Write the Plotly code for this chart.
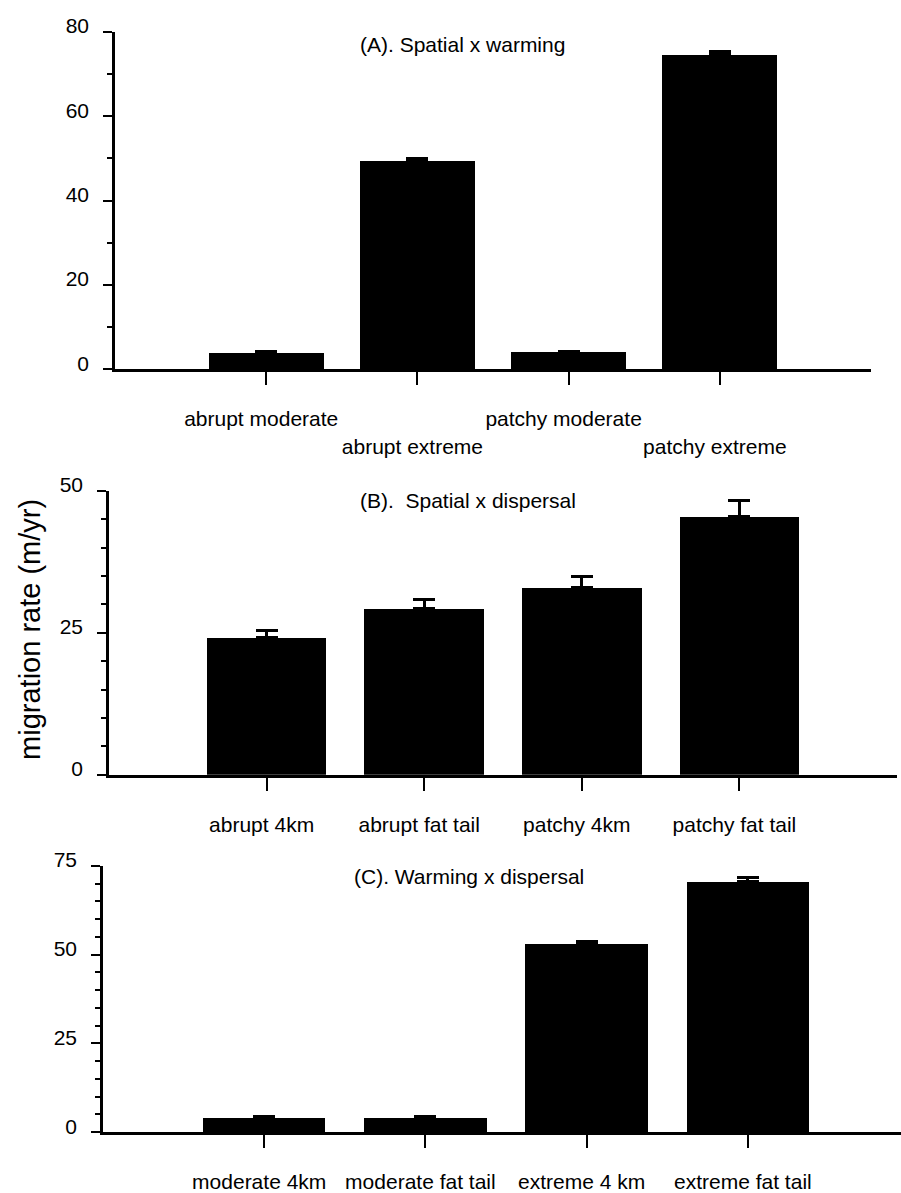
import plotly.graph_objects as go

# ---------------- data ----------------
a_categories = ["abrupt moderate", "abrupt extreme", "patchy moderate", "patchy extreme"]
a_values = [4.0, 49.4, 4.1, 74.5]
a_errors = [0.2, 0.5, 0.2, 0.8]

b_categories = ["abrupt 4km", "abrupt fat tail", "patchy 4km", "patchy fat tail"]
b_values = [24.1, 29.3, 33.0, 45.5]
b_errors = [1.3, 1.6, 2.0, 2.8]

c_categories = ["moderate 4km", "moderate fat tail", "extreme 4 km", "extreme fat tail"]
c_values = [4.1, 4.1, 53.0, 70.6]
c_errors = [0.3, 0.3, 0.6, 1.0]

a_yticks = [0, 20, 40, 60, 80]
b_yticks = [0, 25, 50]
c_yticks = [0, 25, 50, 75]

titles = ["(A). Spatial x warming", "(B).  Spatial x dispersal", "(C). Warming x dispersal"]
y_title = "migration rate (m/yr)"

# ---------------- layout helpers ----------------
W, H = 901, 1193
FONT = "Liberation Sans, Arial, Helvetica, sans-serif"
positions = [1, 2, 3, 4]


def px_x(p):
    return p / W


def px_y(p):
    return 1 - p / H


fig = go.Figure()

panels = [
    dict(cats=a_categories, vals=a_values, errs=a_errors, yticks=a_yticks,
         yrange=[0, 80], minor=10, xr=[0, 5],
         xdom=[px_x(115), px_x(871)], ydom=[px_y(359), px_y(14)], stagger=True),
    dict(cats=b_categories, vals=b_values, errs=b_errors, yticks=b_yticks,
         yrange=[0, 50], minor=5, xr=[0, 5],
         xdom=[px_x(109), px_x(897)], ydom=[px_y(773), px_y(483)], stagger=False),
    dict(cats=c_categories, vals=c_values, errs=c_errors, yticks=c_yticks,
         yrange=[0, 75], minor=5, xr=[0, 4.95],
         xdom=[px_x(103), 1.0], ydom=[px_y(1138), px_y(866)], stagger=False),
]

for i, p in enumerate(panels):
    n = "" if i == 0 else str(i + 1)
    fig.add_trace(go.Bar(
        x=positions, y=p["vals"], width=0.76,
        marker=dict(color="black", line=dict(width=0)),
        error_y=dict(type="data", array=p["errs"], symmetric=False,
                     arrayminus=[0] * len(p["errs"]),
                     color="black", thickness=3, width=11),
        xaxis="x" + n, yaxis="y" + n, showlegend=False,
    ))
    if p["stagger"]:
        ticktext = [c if k % 2 == 0 else "<br>" + c for k, c in enumerate(p["cats"])]
    else:
        ticktext = p["cats"]
    fig.update_layout(**{
        "xaxis" + n: dict(
            domain=p["xdom"], range=p["xr"], anchor="y" + n,
            tickvals=positions, ticktext=ticktext, tickangle=0,
            showline=True, linecolor="black", linewidth=2.5,
            ticks="outside", ticklen=13, tickwidth=1.5, tickcolor="black",
            showgrid=False, zeroline=False, fixedrange=True,
            tickfont=dict(family=FONT, size=21, color="black"),
            ticklabelstandoff=16, ticklabelshift=-5,
        ),
        "yaxis" + n: dict(
            domain=p["ydom"], range=p["yrange"], anchor="x" + n,
            tickvals=p["yticks"],
            showline=True, linecolor="black", linewidth=2.5,
            ticks="outside", ticklen=9, tickwidth=2, tickcolor="black",
            minor=dict(dtick=p["minor"], ticks="outside", ticklen=5,
                       tickwidth=1.5, tickcolor="black", showgrid=False),
            showgrid=False, zeroline=False, fixedrange=True,
            tickfont=dict(family=FONT, size=21, color="black"),
            ticklabelstandoff=10, ticklabelshift=-6,
        ),
    })

annotations = []
title_pos = [(358, 27), (358, 493), (352, 877)]
for t, (tx, ty) in zip(titles, title_pos):
    annotations.append(dict(
        text=t, xref="paper", yref="paper", x=px_x(tx), y=px_y(ty),
        xanchor="left", yanchor="middle", showarrow=False,
        font=dict(family=FONT, size=21, color="black"),
    ))
annotations.append(dict(
    text=y_title, xref="paper", yref="paper", x=px_x(30), y=px_y(625),
    xanchor="center", yanchor="middle", showarrow=False, textangle=-90,
    font=dict(family=FONT, size=29, color="black"),
))

fig.update_layout(
    width=W, height=H,
    margin=dict(l=0, r=0, t=0, b=0),
    paper_bgcolor="white", plot_bgcolor="white",
    bargap=0, annotations=annotations,
    font=dict(family=FONT, color="black"),
)

fig.write_html("out.html")
